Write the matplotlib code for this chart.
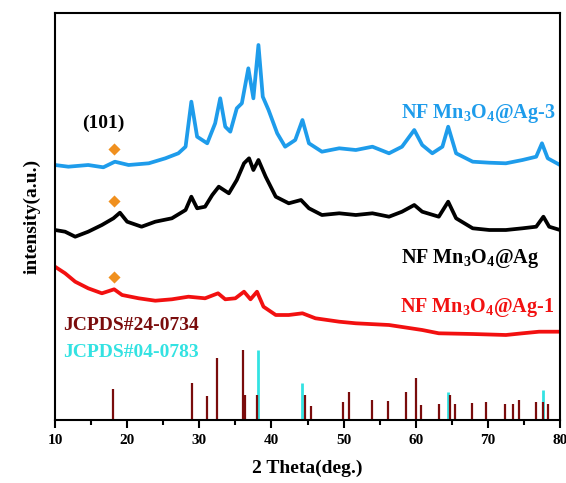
import matplotlib
matplotlib.use("Agg")
import matplotlib.pyplot as plt
from matplotlib.ticker import MultipleLocator

plt.rcParams['font.family'] = ['Liberation Serif', 'DejaVu Serif']
plt.rcParams['font.weight'] = 'bold'
plt.rcParams['mathtext.fontset'] = 'custom'
plt.rcParams['mathtext.rm'] = 'Liberation Serif:bold'
plt.rcParams['mathtext.bf'] = 'Liberation Serif:bold'
plt.rcParams['mathtext.default'] = 'rm'

# ---- data (2theta in degrees, intensity in arbitrary offset units) ----
ag3_x = [10.0, 11.85, 14.6, 16.7, 18.3, 20.2, 23.0, 25.3, 27.1, 28.1, 28.9, 29.7, 31.1, 32.2, 32.9,
         33.6, 34.3, 35.2, 35.9, 36.8, 37.5, 38.2, 38.8, 39.6, 40.8, 41.9, 43.3, 44.3, 45.2, 47.0,
         49.4, 51.7, 54.0, 56.3, 58.1, 59.8, 60.9, 62.3, 63.7, 64.5, 65.6, 67.9, 70.2, 72.5, 74.8,
         76.7, 77.5, 78.3, 80.0]
ag3_y = [255, 253.3, 255, 252.7, 258.3, 255, 256.7, 261.7, 266.7, 273.3, 318.3, 283.3, 276.7, 296.7, 321.7,
         293.3, 288.3, 311.7, 316.7, 351.7, 321.7, 375, 323.3, 310, 286.7, 273.3, 280, 300, 276.7, 268.3,
         271.7, 270, 273.3, 266.7, 273.3, 290, 275, 266.7, 273.3, 293.3, 266.7, 258.3, 257.3, 256.7, 260,
         263.3, 276.7, 261.7, 255]

ag_x = [10.0, 11.4, 12.8, 14.6, 16.5, 18.1, 19.0, 20.0, 22.0, 23.9, 26.2, 28.1, 28.9, 29.7, 30.8,
        31.8, 32.7, 34.1, 35.2, 36.2, 36.9, 37.5, 38.2, 39.2, 40.6, 42.4, 44.1, 45.2, 47.0, 49.4,
        51.7, 54.0, 56.3, 58.1, 59.8, 60.9, 63.2, 64.5, 65.6, 67.9, 70.2, 72.5, 74.8, 76.7, 77.7,
        78.5, 80.0]
ag_y = [190, 188.3, 183.3, 188.3, 195, 201.7, 207.3, 198.3, 193.3, 198.3, 201.7, 210, 223.3, 211.7, 213.3,
        225, 233.3, 226.7, 240, 256.7, 261.7, 250, 260, 243.3, 223.3, 216.7, 220, 211.7, 205, 206.7,
        205, 206.7, 203.3, 208.3, 215, 208.3, 203.3, 218.3, 201.7, 191.7, 190, 190, 191.7, 193.3, 203.3,
        193.3, 190]

ag1_x = [10.0, 11.4, 12.8, 14.6, 16.5, 18.2, 19.3, 21.6, 23.9, 26.2, 28.5, 30.8, 32.6, 33.6, 35.0,
         36.2, 37.1, 38.0, 38.9, 40.6, 42.4, 44.3, 46.1, 49.4, 51.7, 56.3, 60.9, 63.2, 67.9, 72.5,
         74.8, 77.1, 80.0]
ag1_y = [153.3, 146.7, 138.3, 131.7, 126.7, 130.7, 125, 121.7, 119.3, 120.7, 123.3, 121.7, 126.7, 120.7, 121.7,
         128.3, 120.7, 128.3, 113.3, 105, 105, 106.7, 101.7, 98.3, 96.7, 95, 90, 86.7, 86, 85,
         86.7, 88.3, 88.3]

mn_pos = [18.0, 29.0, 31.1, 32.4, 36.1, 36.4, 38.0, 44.6, 45.5, 49.9, 50.8, 54.0, 56.1, 58.6,
          60.0, 60.7, 63.2, 64.8, 65.5, 67.8, 69.8, 72.4, 73.5, 74.3, 76.7, 77.6, 78.3]
mn_int = [31, 37, 24, 62, 70, 25, 25, 25, 14, 18, 28, 20, 19, 28,
          42, 15, 16, 25, 16, 17, 18, 15.6, 16, 20, 18, 18, 15.6]

ag_pos = [38.2, 44.3, 64.5, 77.6]
ag_int = [70, 37, 28, 29.6]

marker_x = [18.2, 18.2, 18.2]
marker_y = [271, 219.3, 142.7]

xticks = [10, 20, 30, 40, 50, 60, 70, 80]

# ---- plot ----
fig = plt.figure(figsize=(5.66, 4.83), dpi=100)
ax = fig.add_axes([55/566, 63/483, 505/566, 407/483])

blue = '#1E9CEB'
red = '#F21010'
maroon = '#7A0C0C'
cyan = '#33E2E2'
orange = '#F0901E'

ax.plot(ag3_x, ag3_y, color=blue, lw=2.7, solid_joinstyle='round')
ax.plot(ag_x, ag_y, color='black', lw=2.7, solid_joinstyle='round')
ax.plot(ag1_x, ag1_y, color=red, lw=2.7, solid_joinstyle='round')

ax.vlines(ag_pos, 0, ag_int, color=cyan, lw=2.0)
ax.vlines(mn_pos, 0, mn_int, color=maroon, lw=1.6)

ax.scatter(marker_x, marker_y, marker='D', s=38, color=orange, zorder=5, linewidths=0)

ax.text(16.7, 296.7, '(101)', ha='center', va='center', fontsize=14, fontweight='bold', color='black')
ax.text(58.0, 301.7, r'NF Mn$_3$O$_4$@Ag-3', ha='left', va='baseline', fontsize=14.5,
        fontweight='bold', color=blue)
ax.text(58.0, 156.7, r'NF Mn$_3$O$_4$@Ag', ha='left', va='baseline', fontsize=14.5,
        fontweight='bold', color='black')
ax.text(57.8, 108.3, r'NF Mn$_3$O$_4$@Ag-1', ha='left', va='baseline', fontsize=14.5,
        fontweight='bold', color=red)
ax.text(11.1, 90, 'JCPDS#24-0734', ha='left', va='baseline', fontsize=14,
        fontweight='bold', color=maroon)
ax.text(11.1, 62.7, 'JCPDS#04-0783', ha='left', va='baseline', fontsize=14,
        fontweight='bold', color=cyan)

ax.set_xlim(10, 80)
ax.set_ylim(0, 407)
ax.set_xticks(xticks)
ax.set_xticklabels([str(t) for t in xticks], fontsize=11, fontweight='bold')
ax.xaxis.set_minor_locator(MultipleLocator(5))
ax.tick_params(axis='x', which='major', direction='out', length=6, width=1.5, pad=4)
ax.tick_params(axis='x', which='minor', direction='out', length=3.5, width=1.5)
ax.set_yticks([])
for s in ax.spines.values():
    s.set_linewidth(1.5)

ax.set_xlabel('2 Theta(deg.)', fontsize=14, fontweight='bold', labelpad=9)
ax.set_ylabel('intensity(a.u.)', fontsize=14, fontweight='bold', labelpad=10)

fig.savefig('out.png', dpi=100, facecolor='white')
